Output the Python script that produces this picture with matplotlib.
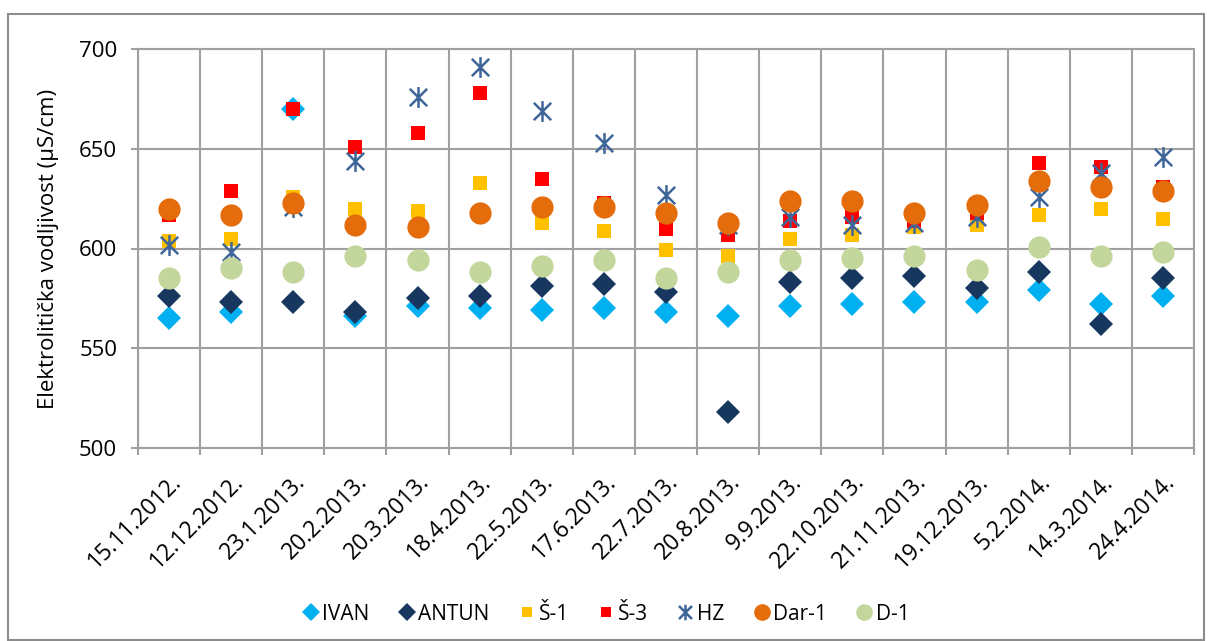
import matplotlib.pyplot as plt
from matplotlib.path import Path

plt.rcParams['font.family'] = ['Open Sans', 'DejaVu Sans']

# datumi uzorkovanja
datumi = ['15.11.2012.', '12.12.2012.', '23.1.2013.', '20.2.2013.', '20.3.2013.',
          '18.4.2013.', '22.5.2013.', '17.6.2013.', '22.7.2013.', '20.8.2013.',
          '9.9.2013.', '22.10.2013.', '21.11.2013.', '19.12.2013.', '5.2.2014.',
          '14.3.2014.', '24.4.2014.']

# elektrolitička vodljivost po lokacijama (µS/cm)
ivan = [565, 568, 670, 566, 571, 570, 569, 570, 568, 566, 571, 572, 573, 573, 579, 572, 576]
antun = [576, 573, 573, 568, 575, 576, 581, 582, 578, 518, 583, 585, 586, 580, 588, 562, 585]
s1 = [604, 605, 626, 620, 619, 633, 613, 609, 599, 596, 605, 607, 611, 612, 617, 620, 615]
s3 = [617, 629, 670, 651, 658, 678, 635, 623, 610, 607, 614, 616, 614, 618, 643, 641, 631]
hz = [602, 598, 621, 644, 676, 691, 669, 653, 627, 612, 616, 612, 613, 616, 626, 638, 646]
dar1 = [620, 617, 623, 612, 611, 618, 621, 621, 618, 613, 624, 624, 618, 622, 634, 631, 629]
d1 = [585, 590, 588, 596, 594, 588, 591, 594, 585, 588, 594, 595, 596, 589, 601, 596, 598]

# zvjezdica kao u Excelu: X + okomita crta
zvijezda = Path([(-1, -1), (1, 1), (-1, 1), (1, -1), (0, -1.2), (0, 1.2)],
                [Path.MOVETO, Path.LINETO, Path.MOVETO, Path.LINETO, Path.MOVETO, Path.LINETO])

serije = [
    ('IVAN', ivan, 'D', '#00B0F0', 12),
    ('ANTUN', antun, 'D', '#17375E', 12),
    ('Š-1', s1, 's', '#FFC000', 10.5),
    ('Š-3', s3, 's', '#FF0000', 10.5),
    ('HZ', hz, zvijezda, '#3F6699', 15),
    ('Dar-1', dar1, 'o', '#E46C0A', 16),
    ('D-1', d1, 'o', '#C3D69B', 16),
]

fig = plt.figure(figsize=(12.12, 6.41), dpi=100)
ax = fig.add_axes([138 / 1212, 1 - 448 / 641, (1194 - 138) / 1212, (448 - 49) / 641])

x = list(range(len(datumi)))
for ime, vrijednosti, marker, boja, ms in serije:
    if ime == 'HZ':
        ax.plot(x, vrijednosti, linestyle='none', marker=marker, markersize=ms,
                markeredgecolor=boja, markerfacecolor='none', markeredgewidth=1.8, label=ime)
    else:
        ax.plot(x, vrijednosti, linestyle='none', marker=marker, markersize=ms,
                color=boja, markeredgewidth=0, label=ime)

ax.set_xlim(-0.5, len(datumi) - 0.5)
ax.set_ylim(500, 700)
ax.set_yticks([500, 550, 600, 650, 700])
ax.set_xticks(x)
ax.set_xticklabels(datumi, rotation=45, ha='right', rotation_mode='anchor', fontsize=16.5)
ax.set_xticks([i - 0.5 for i in range(len(datumi) + 1)], minor=True)
ax.tick_params(axis='y', labelsize=16, length=5, width=1.5, color='#A0A0A0', pad=10)
ax.tick_params(axis='x', which='major', length=0, pad=16)
ax.tick_params(axis='x', which='minor', length=5, width=1.5, color='#A0A0A0')

# okomite crte između kategorija
ax.grid(axis='x', which='minor', color='#A0A0A0', linewidth=1.5)
ax.grid(axis='y', color='#A0A0A0', linewidth=1.5)
ax.set_axisbelow(True)
for s in ax.spines.values():
    s.set_color('#A0A0A0')
    s.set_linewidth(1.5)

ax.set_ylabel('Elektrolitička vodljivost (µS/cm)', fontsize=16, labelpad=14)

leg = ax.legend(loc='center', bbox_to_anchor=(605 / 1212, 1 - 614 / 641),
                bbox_transform=fig.transFigure, ncol=7, frameon=False, fontsize=15,
                handletextpad=0.05, columnspacing=1.3, handlelength=1.0, markerscale=0.75)

# vanjski okvir grafikona
fig.patches.append(plt.Rectangle((8 / 1212, 0.002), (1204 - 8) / 1212, 1 - 14 / 641 - 0.002,
                                 transform=fig.transFigure, fill=False,
                                 edgecolor='#8C8C8C', linewidth=1.5))

fig.savefig('out.png', dpi=100, facecolor='white')
